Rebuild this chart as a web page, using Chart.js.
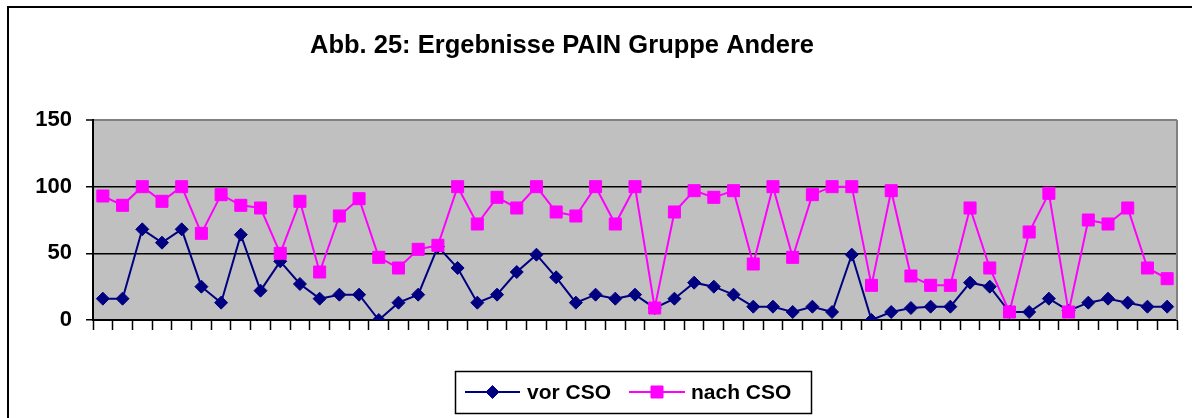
<!DOCTYPE html>
<html>
<head>
<meta charset="utf-8">
<script src="https://cdn.jsdelivr.net/npm/chart.js@4/dist/chart.umd.min.js"></script>
<style>
  html, body { margin: 0; padding: 0; background: #fff; }
  #wrap { width: 1192px; height: 418px; position: relative; }
</style>
</head>
<body>
<div id="wrap"><canvas id="chart" width="1192" height="418"></canvas></div>
<script>
const TITLE = 'Abb. 25: Ergebnisse PAIN Gruppe Andere';
const categories = ['1','2','3','4','5','6','7','8','9','10','11','12','13','14','15','16','17','18','19','20',
  '21','22','23','24','25','26','27','28','29','30','31','32','33','34','35','36','37','38','39','40',
  '41','42','43','44','45','46','47','48','49','50','51','52','53','54','55'];
const vorCSO = [16,16,68,58,68,25,13,64,22,44,27,16,19,19,
  0,13,19,55,39,13,19,36,49,32,13,19,16,19,
  9,16,28,25,19,10,10,6,10,6,49,0,6,
  9,10,10,28,25,6,6,16,7,13,16,13,10,10];
const nachCSO = [93,86,100,89,100,65,94,86,84,50,89,36,78,91,
  47,39,53,56,100,72,92,84,100,81,78,100,72,100,
  9,81,97,92,97,42,100,47,94,100,100,26,97,
  33,26,26,84,39,6,66,95,6,75,72,84,39,31];
const yTicks = [0, 50, 100, 150];

const FONT = "'Liberation Sans', Arial, sans-serif";

// grauer Plotbereich + Rahmen, Titel und Legende im Excel-Stil
const excelLook = {
  id: 'excelLook',
  beforeDraw(chart) {
    const { ctx, chartArea: a } = chart;
    ctx.save();
    ctx.fillStyle = '#c0c0c0';
    ctx.fillRect(a.left, a.top, a.right - a.left, a.bottom - a.top);
    ctx.restore();
  },
  afterDraw(chart) {
    const { ctx, chartArea: a } = chart;
    ctx.save();
    // rechter Rand des Plotbereichs
    ctx.strokeStyle = '#808080';
    ctx.lineWidth = 2;
    ctx.beginPath();
    ctx.moveTo(a.right, a.top);
    ctx.lineTo(a.right, a.bottom);
    ctx.stroke();

    // aeusserer Rahmen
    ctx.strokeStyle = '#000';
    ctx.lineWidth = 2;
    ctx.beginPath();
    ctx.moveTo(8, 418);
    ctx.lineTo(8, 7);
    ctx.lineTo(1192, 7);
    ctx.stroke();

    // Titel
    ctx.fillStyle = '#000';
    ctx.font = 'bold 25.5px ' + FONT;
    ctx.textAlign = 'center';
    ctx.textBaseline = 'alphabetic';
    ctx.fillText(TITLE, 562, 53);

    // Legende
    ctx.strokeStyle = '#000';
    ctx.lineWidth = 1.5;
    ctx.strokeRect(455.5, 371.5, 356, 42);
    const y = 392;
    const items = [
      { ds: chart.data.datasets[0], x0: 465, x1: 520, tx: 527 },
      { ds: chart.data.datasets[1], x0: 629, x1: 685, tx: 691 }
    ];
    items.forEach(it => {
      ctx.strokeStyle = it.ds.borderColor;
      ctx.fillStyle = it.ds.pointBackgroundColor;
      ctx.lineWidth = 2;
      ctx.beginPath();
      ctx.moveTo(it.x0, y);
      ctx.lineTo(it.x1, y);
      ctx.stroke();
      ctx.lineWidth = 1;
      Chart.helpers.drawPoint(ctx, {
        pointStyle: it.ds.pointStyle,
        radius: it.ds.pointRadius,
        borderWidth: 1
      }, (it.x0 + it.x1) / 2, y);
      ctx.fillStyle = '#000';
      ctx.font = 'bold 21px ' + FONT;
      ctx.textAlign = 'left';
      ctx.textBaseline = 'middle';
      ctx.fillText(it.ds.label, it.tx, y + 1);
    });
    ctx.restore();
  }
};

new Chart(document.getElementById('chart'), {
  type: 'line',
  data: {
    labels: categories,
    datasets: [
      {
        label: 'vor CSO', data: vorCSO, order: 1,
        borderColor: '#000080', backgroundColor: '#000080', borderWidth: 2,
        pointStyle: 'rectRot', pointRadius: 6.5, pointBorderWidth: 1,
        pointBackgroundColor: '#000080', pointBorderColor: '#000080'
      },
      {
        label: 'nach CSO', data: nachCSO, order: 0,
        borderColor: '#ff00ff', backgroundColor: '#ff00ff', borderWidth: 2,
        pointStyle: 'rect', pointRadius: 8.5, pointBorderWidth: 1,
        pointBackgroundColor: '#ff00ff', pointBorderColor: '#ff00ff'
      }
    ]
  },
  options: {
    responsive: false, animation: false,
    layout: { padding: { top: 120, right: 15, left: 0, bottom: 0 } },
    plugins: { legend: { display: false }, title: { display: false }, tooltip: { enabled: false } },
    elements: { line: { tension: 0 } },
    scales: {
      x: {
        offset: true,
        afterFit: s => { s.height = 98; },
        grid: { display: true, offset: true, drawOnChartArea: false, drawTicks: true, tickLength: 10, tickColor: '#000', tickWidth: 1.5 },
        border: { display: true, color: '#000', width: 2 },
        ticks: { autoSkip: false, maxRotation: 0, callback: () => '', font: { size: 1 } }
      },
      y: {
        min: 0, max: 150,
        afterFit: s => { s.width = 93; },
        afterBuildTicks: s => { s.ticks = yTicks.map(v => ({ value: v })); },
        grid: {
          color: c => (c.tick && c.tick.value === 150) ? '#808080' : '#000',
          lineWidth: c => (c.tick && c.tick.value === 150) ? 2 : 1.5,
          tickColor: '#000', tickLength: 7, tickWidth: 1.5
        },
        border: { display: true, color: '#000', width: 2 },
        ticks: { color: '#000', padding: 14, font: { family: FONT, size: 22, weight: 'bold' } }
      }
    }
  },
  plugins: [excelLook]
});
</script>
</body>
</html>
